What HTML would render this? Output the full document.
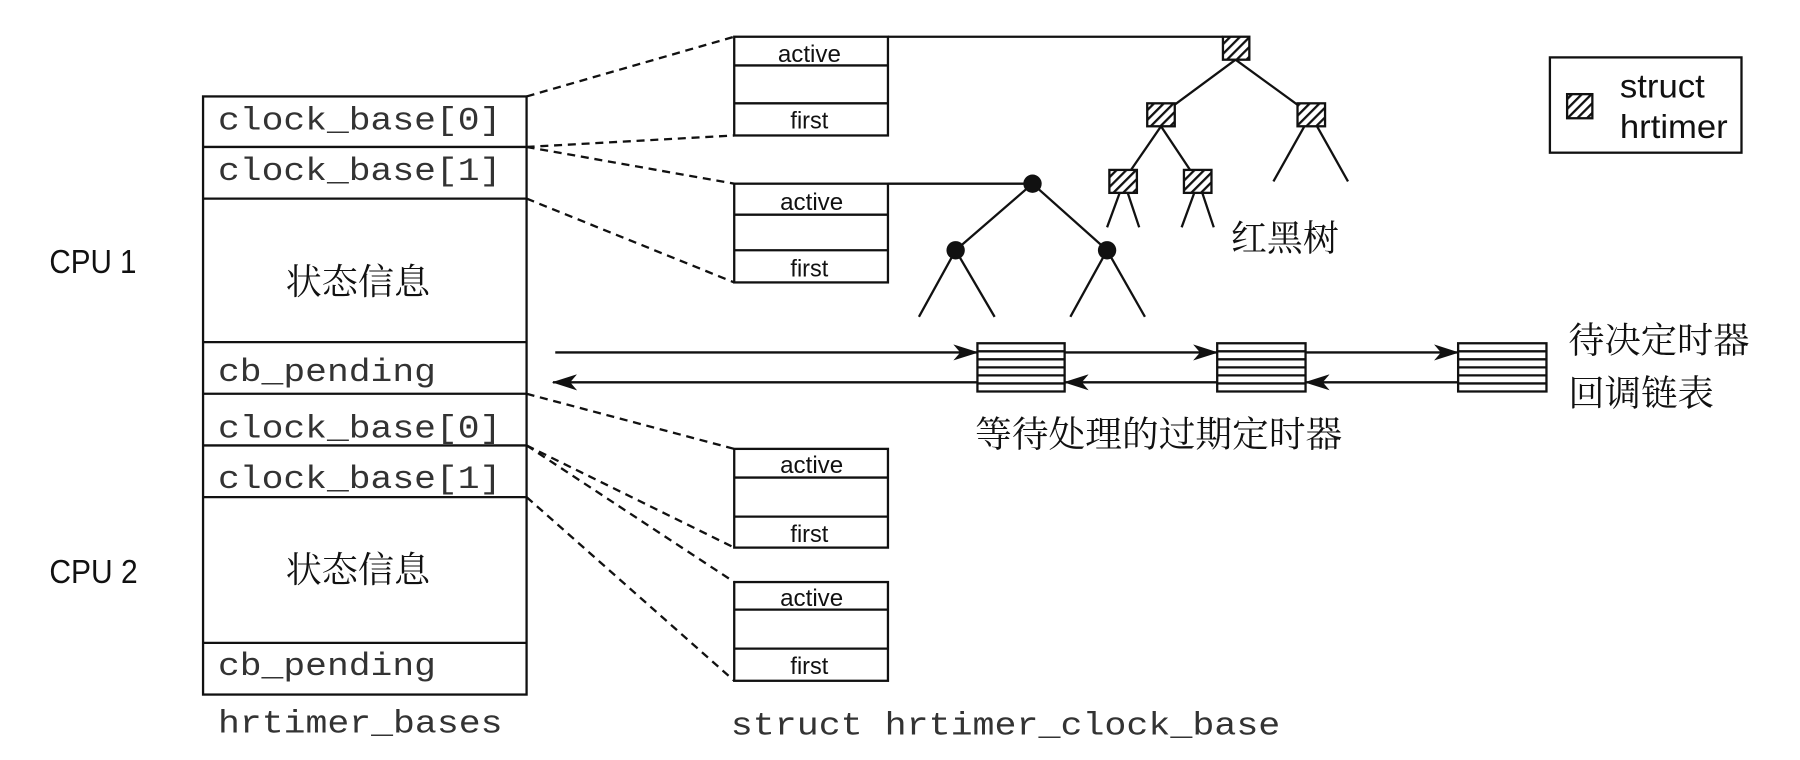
<!DOCTYPE html>
<html><head><meta charset="utf-8"><style>
html,body{margin:0;padding:0;background:#fff;}
svg{display:block;}
.m{font-family:"Liberation Mono",monospace;font-size:28px;fill:#333;}
.s{font-family:"Liberation Sans",sans-serif;font-size:21px;fill:#111;}
.c{font-family:"Liberation Serif","Noto Serif CJK SC","Noto Sans CJK SC",serif;font-size:31px;fill:#111;}
.b{font-family:"Liberation Sans",sans-serif;font-size:29px;fill:#111;}
</style></head><body>
<svg width="1800" height="760" viewBox="0 0 1569 662" preserveAspectRatio="none" xmlns="http://www.w3.org/2000/svg">
<defs>
<pattern id="h" width="6" height="6" patternUnits="userSpaceOnUse" patternTransform="rotate(45)">
<rect width="6" height="6" fill="#fff"/><rect width="2" height="6" fill="#111"/></pattern>
<marker id="a" markerWidth="22" markerHeight="14" refX="21" refY="7" orient="auto" markerUnits="userSpaceOnUse">
<path d="M0,0 L22,7 L0,14 L6,7 Z" fill="#111"/></marker>
</defs>
<g fill="none" stroke="#111" stroke-width="2">
<rect x="177" y="84" width="282" height="521"/>
<line x1="177" y1="128" x2="459" y2="128"/><line x1="177" y1="173" x2="459" y2="173"/>
<line x1="177" y1="298" x2="459" y2="298"/><line x1="177" y1="343" x2="459" y2="343"/>
<line x1="177" y1="388" x2="459" y2="388"/><line x1="177" y1="433" x2="459" y2="433"/>
<line x1="177" y1="560" x2="459" y2="560"/>
<g>
<rect x="640" y="32" width="134" height="86"/><line x1="640" y1="57" x2="774" y2="57"/><line x1="640" y1="90" x2="774" y2="90"/>
<rect x="640" y="160" width="134" height="86"/><line x1="640" y1="187" x2="774" y2="187"/><line x1="640" y1="218" x2="774" y2="218"/>
<rect x="640" y="391" width="134" height="86"/><line x1="640" y1="416" x2="774" y2="416"/><line x1="640" y1="450" x2="774" y2="450"/>
<rect x="640" y="507" width="134" height="86"/><line x1="640" y1="531" x2="774" y2="531"/><line x1="640" y1="565" x2="774" y2="565"/>
</g>
<g stroke-dasharray="7,5">
<line x1="459" y1="84" x2="640" y2="32"/><line x1="459" y1="128" x2="640" y2="118"/>
<line x1="459" y1="128" x2="640" y2="160"/><line x1="459" y1="173" x2="640" y2="246"/>
<line x1="459" y1="343" x2="640" y2="391"/><line x1="459" y1="388" x2="640" y2="477"/>
<line x1="459" y1="388" x2="640" y2="507"/><line x1="459" y1="433" x2="640" y2="593"/>
</g>
<line x1="774" y1="32" x2="1066" y2="32"/>
<line x1="1077" y1="52" x2="1012" y2="100"/><line x1="1077" y1="52" x2="1143" y2="100"/>
<line x1="1012" y1="110" x2="979" y2="158"/><line x1="1012" y1="110" x2="1044" y2="158"/>
<line x1="1137" y1="110" x2="1110" y2="158"/><line x1="1148" y1="110" x2="1175" y2="158"/>
<line x1="976" y1="168" x2="965" y2="198"/><line x1="983" y1="168" x2="993" y2="198"/>
<line x1="1041" y1="168" x2="1030" y2="198"/><line x1="1048" y1="168" x2="1058" y2="198"/>
<rect x="1066" y="32" width="23" height="20" fill="url(#h)"/>
<rect x="1000" y="90" width="24" height="20" fill="url(#h)"/>
<rect x="1131" y="90" width="24" height="20" fill="url(#h)"/>
<rect x="967" y="148" width="24" height="20" fill="url(#h)"/>
<rect x="1032" y="148" width="24" height="20" fill="url(#h)"/>
<line x1="774" y1="160" x2="900" y2="160"/>
<line x1="900" y1="160" x2="833" y2="218"/><line x1="900" y1="160" x2="965" y2="218"/>
<line x1="833" y1="218" x2="801" y2="276"/><line x1="833" y1="218" x2="867" y2="276"/>
<line x1="965" y1="218" x2="933" y2="276"/><line x1="965" y1="218" x2="998" y2="276"/>
<rect x="1351" y="50" width="167" height="83"/>
<rect x="1366" y="82" width="22" height="21" fill="url(#h)"/>
<g>
<rect x="852" y="299" width="76" height="42"/><rect x="1061" y="299" width="77" height="42"/><rect x="1271" y="299" width="77" height="42"/>
<path d="M852,306H928M852,313H928M852,320H928M852,327H928M852,334H928"/>
<path d="M1061,306H1138M1061,313H1138M1061,320H1138M1061,327H1138M1061,334H1138"/>
<path d="M1271,306H1348M1271,313H1348M1271,320H1348M1271,327H1348M1271,334H1348"/>
</g>
<line x1="484" y1="307" x2="852" y2="307" marker-end="url(#a)"/>
<line x1="928" y1="307" x2="1061" y2="307" marker-end="url(#a)"/>
<line x1="1138" y1="307" x2="1271" y2="307" marker-end="url(#a)"/>
<line x1="852" y1="333" x2="482" y2="333" marker-end="url(#a)"/>
<line x1="1061" y1="333" x2="928" y2="333" marker-end="url(#a)"/>
<line x1="1271" y1="333" x2="1138" y2="333" marker-end="url(#a)"/>
</g>
<g fill="#111">
<circle cx="900" cy="160" r="8"/><circle cx="833" cy="218" r="8"/><circle cx="965" cy="218" r="8"/>
</g>
<text class="m" x="190" y="113" textLength="247" lengthAdjust="spacingAndGlyphs">clock_base[0]</text>
<text class="m" x="190" y="157" textLength="247" lengthAdjust="spacingAndGlyphs">clock_base[1]</text>
<text class="m" x="190" y="332" textLength="190" lengthAdjust="spacingAndGlyphs">cb_pending</text>
<text class="m" x="190" y="381" textLength="247" lengthAdjust="spacingAndGlyphs">clock_base[0]</text>
<text class="m" x="190" y="425" textLength="247" lengthAdjust="spacingAndGlyphs">clock_base[1]</text>
<text class="m" x="190" y="588" textLength="190" lengthAdjust="spacingAndGlyphs">cb_pending</text>
<text class="m" x="190" y="638" textLength="248" lengthAdjust="spacingAndGlyphs">hrtimer_bases</text>
<text class="m" x="637" y="640" textLength="479" lengthAdjust="spacingAndGlyphs">struct hrtimer_clock_base</text>
<text class="c" x="249" y="256" textLength="126" lengthAdjust="spacingAndGlyphs">状态信息</text>
<text class="c" x="249" y="507" textLength="126" lengthAdjust="spacingAndGlyphs">状态信息</text>
<text class="b" x="43" y="238" textLength="76" lengthAdjust="spacingAndGlyphs">CPU 1</text>
<text class="b" x="43" y="508" textLength="77" lengthAdjust="spacingAndGlyphs">CPU 2</text>
<g class="s">
<text x="678" y="54" textLength="55" lengthAdjust="spacingAndGlyphs">active</text><text x="689" y="112" textLength="33" lengthAdjust="spacingAndGlyphs">first</text>
<text x="680" y="183" textLength="55" lengthAdjust="spacingAndGlyphs">active</text><text x="689" y="241" textLength="33" lengthAdjust="spacingAndGlyphs">first</text>
<text x="680" y="412" textLength="55" lengthAdjust="spacingAndGlyphs">active</text><text x="689" y="472" textLength="33" lengthAdjust="spacingAndGlyphs">first</text>
<text x="680" y="528" textLength="55" lengthAdjust="spacingAndGlyphs">active</text><text x="689" y="587" textLength="33" lengthAdjust="spacingAndGlyphs">first</text>
</g>
<text class="b" x="1412" y="85" textLength="74" lengthAdjust="spacingAndGlyphs">struct</text>
<text class="b" x="1412" y="120" textLength="94" lengthAdjust="spacingAndGlyphs">hrtimer</text>
<text class="c" x="1073" y="218" textLength="94" lengthAdjust="spacingAndGlyphs">红黑树</text>
<text class="c" x="850" y="389" textLength="320" lengthAdjust="spacingAndGlyphs">等待处理的过期定时器</text>
<text class="c" x="1367" y="307" textLength="158" lengthAdjust="spacingAndGlyphs">待决定时器</text>
<text class="c" x="1367" y="353" textLength="127" lengthAdjust="spacingAndGlyphs">回调链表</text>
</svg>
</body></html>
